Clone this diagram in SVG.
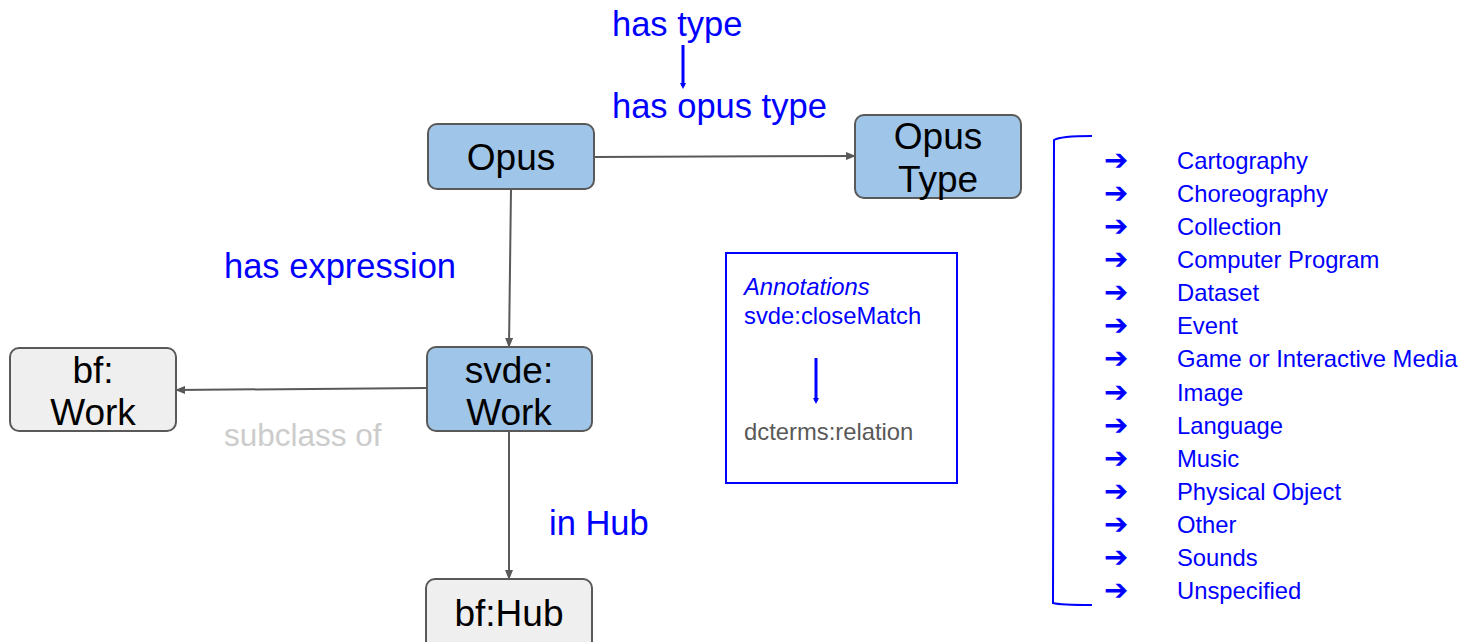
<svg xmlns="http://www.w3.org/2000/svg" width="1461" height="642" viewBox="0 0 1461 642">
<defs>
<style>
.node{stroke:#595959;stroke-width:2}
.blue{fill:#9fc5e8}
.gray{fill:#efefef}
.nt{font-family:"Liberation Sans",Arial,sans-serif;font-size:37px;fill:#000;text-anchor:middle}
.lbl{font-family:"Liberation Sans",Arial,sans-serif;font-size:34.5px;fill:#0000ff}
.sm{font-family:"Liberation Sans",Arial,sans-serif;font-size:23.8px}
.conn{stroke:#595959;stroke-width:2;fill:none;marker-end:url(#ah)}
.bl{stroke:#0000ff;stroke-width:3;fill:none}
.li{font-family:"Liberation Sans",Arial,sans-serif;font-size:23.8px;fill:#0000ff}
.ar{font-family:"DejaVu Sans",sans-serif;font-size:29px;fill:#0000ff;font-weight:bold}
</style>
<marker id="ah" markerWidth="10" markerHeight="8" refX="9" refY="4" orient="auto" markerUnits="userSpaceOnUse">
<path d="M0,0 L10,4 L0,8 Z" fill="#595959"/>
</marker>
<marker id="bh" markerWidth="6" markerHeight="6" refX="3" refY="3" orient="auto" markerUnits="userSpaceOnUse">
<path d="M0,0 L6,3 L0,6 Z" fill="#0000ff"/>
</marker>
</defs>
<rect width="1461" height="642" fill="#fff"/>

<g id="connectors">
<path class="conn" d="M594,157 L855,156"/>
<path class="conn" d="M511,189 L509,347"/>
<path class="conn" d="M427,388 L176,390"/>
<path class="conn" d="M509,431 L509,579"/>
</g>

<g id="opus">
<rect class="node blue" x="428" y="124" width="166" height="65" rx="9"/>
<text class="nt" x="511" y="170">Opus</text>
</g>
<g id="opus-type">
<rect class="node blue" x="855" y="115" width="166" height="83" rx="9"/>
<text class="nt" x="938" y="149">Opus</text>
<text class="nt" x="938" y="192">Type</text>
</g>
<g id="svde-work">
<rect class="node blue" x="427" y="347" width="165" height="84" rx="9"/>
<text class="nt" x="509" y="383">svde:</text>
<text class="nt" x="509" y="425">Work</text>
</g>
<g id="bf-work">
<rect class="node gray" x="10" y="348" width="166" height="83" rx="9"/>
<text class="nt" x="93" y="383">bf:</text>
<text class="nt" x="93" y="425">Work</text>
</g>
<g id="bf-hub">
<rect class="node gray" x="426" y="579" width="166" height="80" rx="9"/>
<text class="nt" x="509" y="626">bf:Hub</text>
</g>

<g id="labels">
<text class="lbl" x="612" y="36">has type</text>
<path class="bl" d="M683,45 L683,86" marker-end="url(#bh)"/>
<text class="lbl" x="612" y="118">has opus type</text>
<text class="lbl" x="224" y="278">has expression</text>
<text class="lbl" x="549" y="535">in Hub</text>
<text x="224" y="446" font-family="Liberation Sans, Arial, sans-serif" font-size="31.5" fill="#cccccc">subclass of</text>
</g>

<g id="annotations">
<rect x="726" y="253" width="231" height="230" fill="none" stroke="#0000ff" stroke-width="2"/>
<text class="sm" x="744" y="295" fill="#0000ff" font-style="italic">Annotations</text>
<text class="sm" x="744" y="324" fill="#0000ff">svde:closeMatch</text>
<path class="bl" d="M816,358 L816,401" marker-end="url(#bh)"/>
<text class="sm" x="744" y="440" fill="#595959">dcterms:relation</text>
</g>

<g id="type-list">
<path d="M1092,136 Q1060,136 1054,140 L1053,603 Q1060,605 1092,605" fill="none" stroke="#0000ff" stroke-width="2"/>
<g class="ar">
<text x="1104" y="170">➔</text>
<text x="1104" y="203">➔</text>
<text x="1104" y="236">➔</text>
<text x="1104" y="269">➔</text>
<text x="1104" y="302">➔</text>
<text x="1104" y="335">➔</text>
<text x="1104" y="368">➔</text>
<text x="1104" y="402">➔</text>
<text x="1104" y="435">➔</text>
<text x="1104" y="468">➔</text>
<text x="1104" y="501">➔</text>
<text x="1104" y="534">➔</text>
<text x="1104" y="567">➔</text>
<text x="1104" y="600">➔</text>
</g>
<g class="li">
<text x="1177" y="169">Cartography</text>
<text x="1177" y="202">Choreography</text>
<text x="1177" y="235">Collection</text>
<text x="1177" y="268">Computer Program</text>
<text x="1177" y="301">Dataset</text>
<text x="1177" y="334">Event</text>
<text x="1177" y="367">Game or Interactive Media</text>
<text x="1177" y="401">Image</text>
<text x="1177" y="434">Language</text>
<text x="1177" y="467">Music</text>
<text x="1177" y="500">Physical Object</text>
<text x="1177" y="533">Other</text>
<text x="1177" y="566">Sounds</text>
<text x="1177" y="599">Unspecified</text>
</g>
</g>
</svg>
